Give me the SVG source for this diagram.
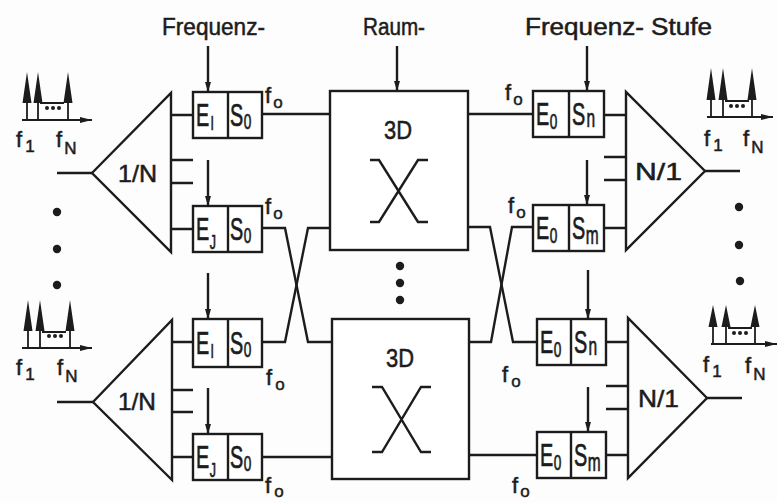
<svg xmlns="http://www.w3.org/2000/svg" width="777" height="503" viewBox="0 0 777 503">
<defs>
<style>
.ln{fill:none;stroke:#1c1c1c;stroke-width:2.4;stroke-linejoin:miter}
.bx{fill:#fff;stroke:#1c1c1c;stroke-width:2.4}
.tx{font-family:"Liberation Sans",Arial,sans-serif;fill:#1c1c1c;stroke:#1c1c1c;stroke-width:0.5}
.bt{font-family:"Liberation Sans",Arial,sans-serif;fill:#1c1c1c;stroke:#1c1c1c;stroke-width:0.7;font-size:32px}
.hd{font-size:23px}
.lab{font-size:24px}
.fo{font-size:22px}
.sp{fill:#1c1c1c;stroke:none}
.th{fill:none;stroke:#1c1c1c;stroke-width:1.8}
</style>
<marker id="ah" markerUnits="userSpaceOnUse" markerWidth="10" markerHeight="6" refX="10" refY="3" orient="auto">
<path d="M0,0 L10,3 L0,6 z" fill="#1c1c1c"/>
</marker>
<marker id="sa" markerUnits="userSpaceOnUse" markerWidth="12" markerHeight="6" refX="12" refY="3" orient="auto">
<path d="M0,0 L12,3 L0,6 z" fill="#1c1c1c"/>
</marker>
</defs>
<rect x="0" y="0" width="777" height="503" fill="#fdfdfd"/>

<g id="headers">
<text class="tx hd" x="162" y="35" textLength="103" lengthAdjust="spacingAndGlyphs">Frequenz-</text>
<text class="tx hd" x="363" y="35" textLength="62" lengthAdjust="spacingAndGlyphs">Raum-</text>
<text class="tx hd" x="525" y="35" textLength="187" lengthAdjust="spacingAndGlyphs">Frequenz- Stufe</text>
</g>

<g id="connectors">
<line class="ln" x1="208" y1="46" x2="208" y2="92" marker-end="url(#ah)"/>
<line class="ln" x1="208" y1="160" x2="208" y2="206" marker-end="url(#ah)"/>
<line class="ln" x1="208" y1="273" x2="208" y2="319" marker-end="url(#ah)"/>
<line class="ln" x1="208" y1="388" x2="208" y2="434" marker-end="url(#ah)"/>
<line class="ln" x1="397" y1="46" x2="397" y2="91" marker-end="url(#ah)"/>
<line class="ln" x1="587" y1="46" x2="587" y2="91" marker-end="url(#ah)"/>
<line class="ln" x1="587" y1="160" x2="587" y2="205" marker-end="url(#ah)"/>
<line class="ln" x1="588" y1="270" x2="588" y2="319" marker-end="url(#ah)"/>
<line class="ln" x1="588" y1="387" x2="588" y2="432" marker-end="url(#ah)"/>
<line class="ln" x1="57" y1="173" x2="92" y2="173"/>
<line class="ln" x1="57" y1="402" x2="93" y2="402"/>
<line class="ln" x1="705" y1="171" x2="740" y2="171"/>
<line class="ln" x1="707" y1="398" x2="742" y2="398"/>
<path class="ln" d="M171,115 H193 M171,160 H193 M171,183 H193 M171,229 H193"/>
<path class="ln" d="M172,342 H193 M172,390 H193 M172,412 H193 M172,457 H193"/>
<path class="ln" d="M604,115 H626 M604,157 H626 M604,180 H626 M604,228 H626"/>
<path class="ln" d="M606,342 H628 M606,386 H628 M606,409 H628 M606,455 H628"/>
<line class="ln" x1="262" y1="114" x2="330" y2="114"/>
<line class="ln" x1="262" y1="457" x2="332" y2="457"/>
<line class="ln" x1="468" y1="114" x2="533" y2="114"/>
<line class="ln" x1="469" y1="455" x2="537" y2="455"/>
<path class="ln" d="M262,228 H285 L308,342 H332"/>
<path class="ln" d="M262,342 H285 L308,228 H330"/>
<path class="ln" d="M468,227 H490 L513,342 H537"/>
<path class="ln" d="M469,342 H491 L512,227 H533"/>
</g>

<g id="split1">
<path class="ln" d="M92,173 L171,93 V252 Z"/>
<text class="tx lab" x="118" y="182" textLength="39" lengthAdjust="spacingAndGlyphs">1/N</text>
</g>
<g id="split2">
<path class="ln" d="M93,402 L172,320 V480 Z"/>
<text class="tx lab" x="118" y="410" textLength="38" lengthAdjust="spacingAndGlyphs">1/N</text>
</g>
<g id="comb1">
<path class="ln" d="M705,171 L626,92 V250 Z"/>
<text class="tx lab" x="635" y="180" textLength="47" lengthAdjust="spacingAndGlyphs">N/1</text>
</g>
<g id="comb2">
<path class="ln" d="M707,398 L628,318 V478 Z"/>
<text class="tx lab" x="638" y="407" textLength="41" lengthAdjust="spacingAndGlyphs">N/1</text>
</g>

<g id="fE1a">
<rect class="bx" x="193" y="92" width="69" height="46"/>
<line class="ln" x1="228" y1="92" x2="228" y2="138"/>
<text class="bt" transform="translate(196,126) scale(0.62,1)">E<tspan font-size="20" dx="2" dy="4">I</tspan></text>
<text class="bt" transform="translate(230,126) scale(0.62,1)">S<tspan font-size="22" dx="1" dy="3">0</tspan></text>
</g>
<g id="fEja">
<rect class="bx" x="193" y="206" width="69" height="46"/>
<line class="ln" x1="228" y1="206" x2="228" y2="252"/>
<text class="bt" transform="translate(196,240) scale(0.62,1)">E<tspan font-size="20" dx="1" dy="9">J</tspan></text>
<text class="bt" transform="translate(230,240) scale(0.62,1)">S<tspan font-size="22" dx="1" dy="3">0</tspan></text>
</g>
<g id="fE1b">
<rect class="bx" x="193" y="319" width="69" height="48"/>
<line class="ln" x1="228" y1="319" x2="228" y2="367"/>
<text class="bt" transform="translate(196,354) scale(0.62,1)">E<tspan font-size="20" dx="2" dy="4">I</tspan></text>
<text class="bt" transform="translate(230,354) scale(0.62,1)">S<tspan font-size="22" dx="1" dy="3">0</tspan></text>
</g>
<g id="fEjb">
<rect class="bx" x="193" y="434" width="69" height="46"/>
<line class="ln" x1="228" y1="434" x2="228" y2="480"/>
<text class="bt" transform="translate(196,468) scale(0.62,1)">E<tspan font-size="20" dx="1" dy="9">J</tspan></text>
<text class="bt" transform="translate(230,468) scale(0.62,1)">S<tspan font-size="22" dx="1" dy="3">0</tspan></text>
</g>

<g id="raum1">
<rect class="bx" x="330" y="91" width="138" height="159"/>
<text class="tx" font-size="25" x="398" y="139" text-anchor="middle" textLength="28" lengthAdjust="spacingAndGlyphs">3D</text>
<path class="ln" d="M370,160 H379 L418,222 H428 M428,160 H418 L379,222 H370"/>
</g>
<g id="raum2">
<rect class="bx" x="332" y="319" width="137" height="160"/>
<text class="tx" font-size="25" x="400" y="367" text-anchor="middle" textLength="28" lengthAdjust="spacingAndGlyphs">3D</text>
<path class="ln" d="M372,387 H382 L421,452 H431 M431,387 H421 L382,452 H372"/>
</g>

<g id="fSna">
<rect class="bx" x="533" y="91" width="71" height="46"/>
<line class="ln" x1="569" y1="91" x2="569" y2="137"/>
<text class="bt" transform="translate(536,125) scale(0.62,1)">E<tspan font-size="22" dx="1" dy="4">0</tspan></text>
<text class="bt" transform="translate(572,125) scale(0.62,1)">S<tspan font-size="25" dx="2" dy="2">n</tspan></text>
</g>
<g id="fSma">
<rect class="bx" x="533" y="205" width="71" height="46"/>
<line class="ln" x1="569" y1="205" x2="569" y2="251"/>
<text class="bt" transform="translate(536,239) scale(0.62,1)">E<tspan font-size="22" dx="1" dy="4">0</tspan></text>
<text class="bt" transform="translate(572,239) scale(0.62,1)">S<tspan font-size="25" dx="1" dy="5">m</tspan></text>
</g>
<g id="fSnb">
<rect class="bx" x="537" y="319" width="69" height="46"/>
<line class="ln" x1="571" y1="319" x2="571" y2="365"/>
<text class="bt" transform="translate(540,353) scale(0.62,1)">E<tspan font-size="22" dx="1" dy="4">0</tspan></text>
<text class="bt" transform="translate(574,353) scale(0.62,1)">S<tspan font-size="25" dx="2" dy="2">n</tspan></text>
</g>
<g id="fSmb">
<rect class="bx" x="537" y="432" width="69" height="46"/>
<line class="ln" x1="571" y1="432" x2="571" y2="478"/>
<text class="bt" transform="translate(540,466) scale(0.62,1)">E<tspan font-size="22" dx="1" dy="4">0</tspan></text>
<text class="bt" transform="translate(574,466) scale(0.62,1)">S<tspan font-size="25" dx="1" dy="5">m</tspan></text>
</g>

<g id="fo-labels">
<text class="tx fo" x="265" y="103">f<tspan font-size="17" dx="2" dy="5">o</tspan></text>
<text class="tx fo" x="265" y="214">f<tspan font-size="17" dx="2" dy="5">o</tspan></text>
<text class="tx fo" x="266" y="385">f<tspan font-size="17" dx="3" dy="5">o</tspan></text>
<text class="tx fo" x="265" y="493">f<tspan font-size="17" dx="3" dy="4">o</tspan></text>
<text class="tx fo" x="505" y="100">f<tspan font-size="17" dx="2" dy="5">o</tspan></text>
<text class="tx fo" x="508" y="213">f<tspan font-size="17" dx="2" dy="5">o</tspan></text>
<text class="tx fo" x="502" y="382">f<tspan font-size="17" dx="3" dy="5">o</tspan></text>
<text class="tx fo" x="512" y="493">f<tspan font-size="17" dx="2" dy="4">o</tspan></text>
</g>

<g id="spec-tl">
<line class="th" x1="22" y1="120" x2="92" y2="120" marker-end="url(#sa)"/>
<path class="th" d="M27,100 V120 M38,100 V120 M68,100 V120 M40,103 H64"/>
<path class="sp" d="M22.5,103 L27,72 L31.5,103 Z M33.5,103 L38,72 L42.5,103 Z M63.5,103 L68,72 L72.5,103 Z"/>
<circle class="sp" cx="47" cy="108" r="2"/><circle class="sp" cx="53" cy="108" r="2"/><circle class="sp" cx="59" cy="108" r="2"/>
<text class="tx fo" x="16" y="147">f<tspan font-size="17" dx="3" dy="5">1</tspan></text>
<text class="tx fo" x="56" y="147">f<tspan font-size="17" dx="2" dy="7">N</tspan></text>
</g>
<g id="spec-tr">
<line class="th" x1="707" y1="117" x2="773" y2="117" marker-end="url(#sa)"/>
<path class="th" d="M711,97 V117 M723,97 V117 M752,97 V117 M725,101 H749"/>
<path class="sp" d="M706.5,100 L711,68 L715.5,100 Z M718.5,100 L723,68 L727.5,100 Z M747.5,100 L752,68 L756.5,100 Z"/>
<circle class="sp" cx="731" cy="106" r="2"/><circle class="sp" cx="737" cy="106" r="2"/><circle class="sp" cx="743" cy="106" r="2"/>
<text class="tx fo" x="704" y="146">f<tspan font-size="17" dx="3" dy="5">1</tspan></text>
<text class="tx fo" x="743" y="146">f<tspan font-size="17" dx="2" dy="7">N</tspan></text>
</g>
<g id="spec-bl">
<line class="th" x1="22" y1="348" x2="92" y2="348" marker-end="url(#sa)"/>
<path class="th" d="M28,328 V348 M40,328 V348 M70,328 V348 M42,332 H66"/>
<path class="sp" d="M23.5,331 L28,300 L32.5,331 Z M35.5,331 L40,300 L44.5,331 Z M65.5,331 L70,300 L74.5,331 Z"/>
<circle class="sp" cx="49" cy="336" r="2"/><circle class="sp" cx="55" cy="336" r="2"/><circle class="sp" cx="61" cy="336" r="2"/>
<text class="tx fo" x="16" y="375">f<tspan font-size="17" dx="3" dy="5">1</tspan></text>
<text class="tx fo" x="57" y="375">f<tspan font-size="17" dx="2" dy="7">N</tspan></text>
</g>
<g id="spec-br">
<line class="th" x1="711" y1="344" x2="777" y2="344" marker-end="url(#sa)"/>
<path class="th" d="M713,324 V344 M726,324 V344 M755,324 V344 M728,328 H752"/>
<path class="sp" d="M708.5,327 L713,305 L717.5,327 Z M721.5,327 L726,305 L730.5,327 Z M750.5,327 L755,305 L759.5,327 Z"/>
<circle class="sp" cx="734" cy="333" r="2"/><circle class="sp" cx="740" cy="333" r="2"/><circle class="sp" cx="746" cy="333" r="2"/>
<text class="tx fo" x="703" y="372">f<tspan font-size="17" dx="3" dy="5">1</tspan></text>
<text class="tx fo" x="745" y="373">f<tspan font-size="17" dx="2" dy="7">N</tspan></text>
</g>

<g id="ellipses">
<circle class="sp" cx="57" cy="212" r="4.2"/><circle class="sp" cx="57" cy="249" r="4.2"/><circle class="sp" cx="57" cy="285" r="4.2"/>
<circle class="sp" cx="739" cy="207" r="4.2"/><circle class="sp" cx="739" cy="245" r="4.2"/><circle class="sp" cx="740" cy="281" r="4.2"/>
<circle class="sp" cx="400" cy="266" r="4.2"/><circle class="sp" cx="400" cy="283" r="4.2"/><circle class="sp" cx="400" cy="300" r="4.2"/>
</g>
</svg>
